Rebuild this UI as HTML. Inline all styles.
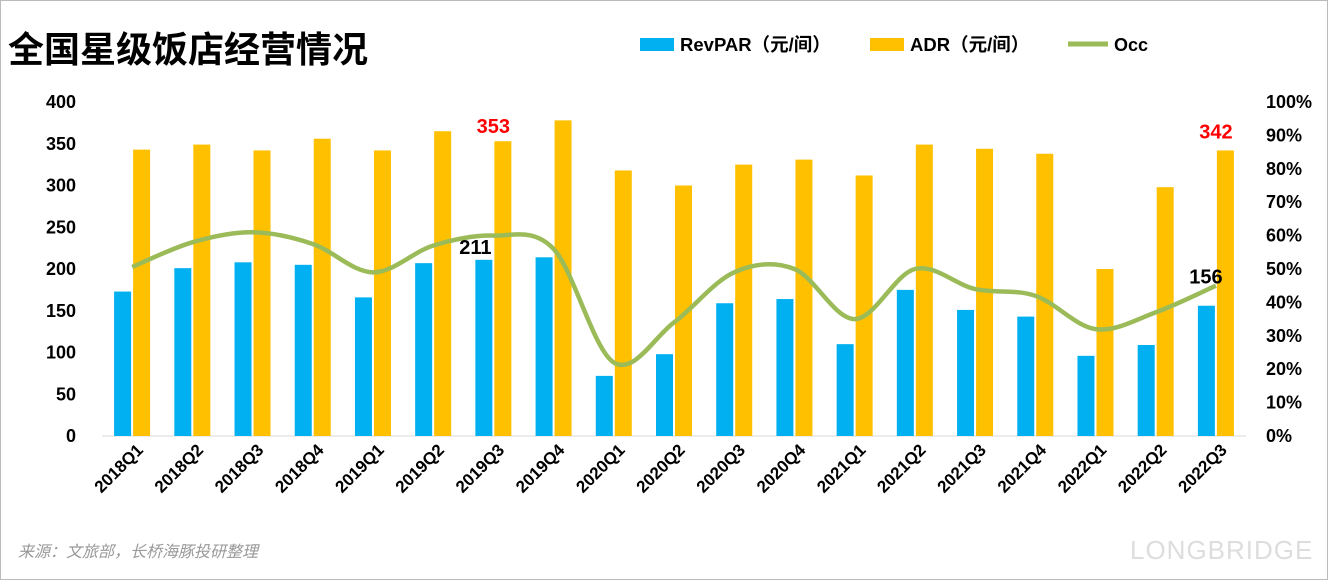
<!DOCTYPE html>
<html><head><meta charset="utf-8"><style>
body{margin:0;background:#fff;}
#wrap{position:relative;width:1328px;height:580px;overflow:hidden;font-family:"Liberation Sans","Noto Sans CJK SC",sans-serif;}
</style></head><body>
<div id="wrap">
<svg id="chart" width="1328" height="580" xmlns="http://www.w3.org/2000/svg">
<rect x="0.5" y="0.5" width="1327" height="579" fill="#fff" stroke="#bbb"/>
<text x="8" y="62" font-size="36" font-weight="bold" fill="#000" font-family="Liberation Sans,Noto Sans CJK SC,sans-serif">全国星级饭店经营情况</text>
<g>
<rect x="640" y="38" width="34" height="13" fill="#00b0f0"/>
<text x="680" y="51" font-size="18.5" font-weight="bold">RevPAR（元/间）</text>
<rect x="870" y="38" width="34" height="13" fill="#ffc000"/>
<text x="910" y="51" font-size="18.5" font-weight="bold">ADR（元/间）</text>
<line x1="1068" y1="44" x2="1108" y2="44" stroke="#9bbb59" stroke-width="5"/>
<text x="1114" y="51" font-size="18" font-weight="bold">Occ</text>
</g>
<g id="axes"></g><g id="bars"></g><g id="lines"></g><g id="labels"></g>
<text x="18" y="557" font-size="16" font-style="italic" fill="#999">来源：文旅部，长桥海豚投研整理</text>
<text x="1130" y="559" font-size="26" fill="#ddd" letter-spacing="1">LONGBRIDGE</text>
</svg>
</div>
<script>
const categories=["2018Q1","2018Q2","2018Q3","2018Q4","2019Q1","2019Q2","2019Q3","2019Q4","2020Q1","2020Q2","2020Q3","2020Q4","2021Q1","2021Q2","2021Q3","2021Q4","2022Q1","2022Q2","2022Q3"];
const revpar=[173,201,208,205,166,207,211,214,72,98,159,164,110,175,151,143,96,109,156];
const adr=[343,349,342,356,342,365,353,378,318,300,325,331,312,349,344,338,200,298,342];
const occ=[50.6,58,61,57.5,49,57,60,56,22,34,49,50,35,50,44,42,32,37,45];
const leftTicks=[0,50,100,150,200,250,300,350,400];
const rightTicks=[0,10,20,30,40,50,60,70,80,90,100];
const NS="http://www.w3.org/2000/svg";
const X0=102,X1=1246,Y0=436,Y1=102;
const step=(X1-X0)/categories.length;
const xc=i=>X0+step*(i+0.5);
const yL=v=>Y0-(v/400)*(Y0-Y1);
const yR=v=>Y0-(v/100)*(Y0-Y1);
function mk(tag,attrs,parent,text){const e=document.createElementNS(NS,tag);for(const k in attrs)e.setAttribute(k,attrs[k]);if(text!==undefined)e.textContent=text;document.getElementById(parent).appendChild(e);return e;}
leftTicks.forEach(t=>{const e=mk("text",{x:X0-26,y:yL(t)+6,"font-size":18,"font-weight":"bold","text-anchor":"end"},"axes",t);

});
rightTicks.forEach(t=>{const e=mk("text",{x:X1+20,y:yR(t)+6,"font-size":18,"font-weight":"bold"},"axes",t+"%");

});
const ax=mk("line",{x1:X0,y1:Y0,x2:X1,y2:Y0,stroke:"#d9d9d9"},"axes");


categories.forEach((c,i)=>{const x=xc(i);
const b=mk("rect",{x:x-18,y:yL(revpar[i]),width:17,height:Y0-yL(revpar[i]),fill:"#00b0f0"},"bars");


const a=mk("rect",{x:x+1,y:yL(adr[i]),width:17,height:Y0-yL(adr[i]),fill:"#ffc000"},"bars");


const t=mk("text",{x:x+12,y:451,"font-size":17,"font-weight":"bold","text-anchor":"end",transform:`rotate(-45 ${x+12} 451)`},"axes",c);

});
const pts=occ.map((v,i)=>[xc(i),yR(v)]);
let d=`M${pts[0][0]},${pts[0][1]}`;
for(let i=0;i<pts.length-1;i++){const p0=pts[i-1]||pts[i],p1=pts[i],p2=pts[i+1],p3=pts[i+2]||p2;
d+=` C${p1[0]+(p2[0]-p0[0])/6},${p1[1]+(p2[1]-p0[1])/6} ${p2[0]-(p3[0]-p1[0])/6},${p2[1]-(p3[1]-p1[1])/6} ${p2[0]},${p2[1]}`;}
const ln=mk("path",{d:d,fill:"none",stroke:"#9bbb59","stroke-width":4.5},"lines");


function lab(i,val,y,color,dx){const e=mk("text",{x:xc(i)+dx,y:y,"font-size":20,"font-weight":"bold",fill:color,"text-anchor":"middle"},"labels",val);

}
lab(6,adr[6],yL(adr[6])-8,"#ff0000",0);
lab(18,adr[18],yL(adr[18])-12,"#ff0000",0);
lab(6,revpar[6],yL(revpar[6])-6,"#000",-18);
lab(18,revpar[18],yL(revpar[18])-22,"#000",-10);
</script>
</body></html>
